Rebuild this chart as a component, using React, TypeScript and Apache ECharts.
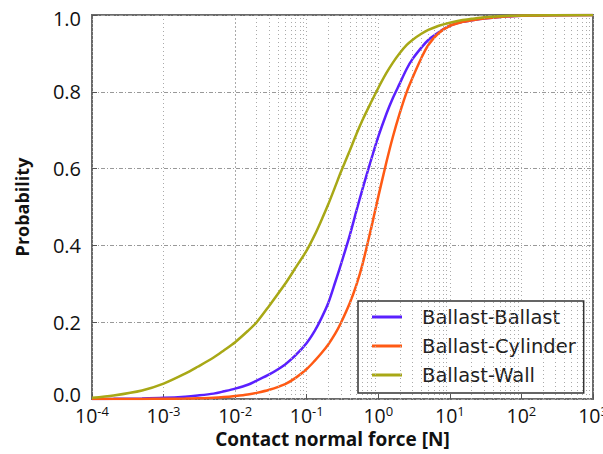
import React, { useEffect, useRef } from "react";
import * as echarts from "echarts";

const forces = [1e-4, 2e-4, 5e-4, 1e-3, 2e-3, 3e-3, 5e-3, 7e-3, 0.01, 0.015, 0.02, 0.03, 0.05, 0.07, 0.1, 0.13, 0.16, 0.2, 0.25, 0.3, 0.4, 0.5, 0.6, 0.8, 1, 1.3, 1.6, 2, 2.5, 3, 4, 5, 7, 10, 15, 20, 30, 50, 100, 1000];
const ballastBallast = [0, 0.0005, 0.0015, 0.003, 0.006, 0.009, 0.014, 0.02, 0.027, 0.037, 0.048, 0.064, 0.09, 0.114, 0.146, 0.178, 0.21, 0.25, 0.304, 0.35, 0.427, 0.493, 0.546, 0.625, 0.683, 0.743, 0.784, 0.822, 0.86, 0.885, 0.915, 0.935, 0.955, 0.972, 0.982, 0.986, 0.991, 0.995, 0.998, 1.0];
const ballastCylinder = [0, 0, 0.0002, 0.0005, 0.001, 0.0018, 0.003, 0.005, 0.008, 0.012, 0.016, 0.024, 0.039, 0.055, 0.078, 0.1, 0.119, 0.142, 0.17, 0.198, 0.25, 0.3, 0.35, 0.447, 0.527, 0.617, 0.683, 0.745, 0.8, 0.836, 0.888, 0.922, 0.953, 0.972, 0.982, 0.986, 0.991, 0.995, 0.998, 1.0];
const ballastWall = [0.003, 0.009, 0.022, 0.04, 0.066, 0.084, 0.108, 0.127, 0.148, 0.177, 0.2, 0.243, 0.3, 0.342, 0.387, 0.428, 0.465, 0.507, 0.553, 0.591, 0.647, 0.692, 0.726, 0.774, 0.81, 0.849, 0.876, 0.901, 0.922, 0.935, 0.951, 0.961, 0.972, 0.98, 0.987, 0.99, 0.994, 0.997, 0.999, 1.0];
const seriesNames = ["Ballast-Ballast", "Ballast-Cylinder", "Ballast-Wall"];
const seriesColors = ["#5a20ff", "#ff5a14", "#a8a816"];
const decades = [1e-4, 1e-3, 1e-2, 1e-1, 1, 10, 100];
const minorMultipliers = [2, 3, 4, 5, 6, 7, 8, 9];

const FONT = "Open Sans";

export default function App() {
  const ref = useRef<HTMLDivElement>(null);
  useEffect(() => {
    document.body.style.margin = "0";
    const chart = echarts.init(ref.current!, null, { renderer: "svg" });
    const minorLines: any[] = [];
    decades.forEach((d) => minorMultipliers.forEach((m) => minorLines.push({ xAxis: d * m })));
    const allData = [ballastBallast, ballastCylinder, ballastWall];
    const yLabelStyle = { fontFamily: FONT, fontSize: 20, color: "#111" };
    chart.setOption({
      animation: false,
      backgroundColor: "#ffffff",
      grid: {
        left: 92,
        top: 15,
        right: 10,
        bottom: 55,
        outerBoundsMode: "none",
        containLabel: false,
        show: true,
        borderColor: "#6a6a6a",
        borderWidth: 2,
        backgroundColor: "#fff",
      },
      legend: {
        data: seriesNames,
        orient: "vertical",
        left: 358,
        top: 301,
        backgroundColor: "#fff",
        borderColor: "#333",
        borderWidth: 1.5,
        borderRadius: 0,
        padding: [6, 8, 8, 14],
        itemWidth: 30,
        itemHeight: 3,
        itemGap: 9,
        icon: "rect",
        textStyle: { fontFamily: "DejaVu Sans", fontSize: 19.5, color: "#222", padding: [0, 0, 0, 15] },
      },
      xAxis: {
        type: "log",
        logBase: 10,
        min: 1e-4,
        max: 1e3,
        name: "Contact normal force [N]",
        nameLocation: "middle",
        nameGap: 30,
        nameTextStyle: { fontFamily: FONT, fontSize: 19, fontWeight: "bold", color: "#111", padding: [0, 20, 0, 0] },
        axisLine: { show: false },
        axisTick: { show: true, inside: true, length: 5, lineStyle: { color: "#555" } },
        splitLine: { show: true, lineStyle: { color: "#aaa", type: [1, 3], width: 1 } },
        axisLabel: {
          margin: 5,
          formatter: (v: number) => "{b|10}{s|" + Math.round(Math.log10(v)) + "}",
          rich: {
            b: { fontFamily: FONT, fontSize: 19.5, color: "#111" },
            s: { fontFamily: FONT, fontSize: 13, color: "#111", padding: [0, 0, 9, 0] },
          },
        },
      },
      yAxis: {
        type: "value",
        min: 0,
        max: 1,
        interval: 0.2,
        name: "Probability",
        nameLocation: "middle",
        nameGap: 61,
        nameTextStyle: { fontFamily: FONT, fontSize: 18, fontWeight: "bold", color: "#111" },
        axisLine: { show: false },
        axisTick: { show: true, inside: true, length: 5, lineStyle: { color: "#555" } },
        splitLine: { show: true, lineStyle: { color: "#999", type: [4, 2, 1, 2], width: 1 } },
        axisLabel: {
          margin: 11,
          ...yLabelStyle,
          formatter: (v: number) => {
            const t = v.toFixed(1);
            if (v < 0.01) return "{lo|" + t + "}";
            if (v > 0.99) return "{hi|" + t + "}";
            return "{n|" + t + "}";
          },
          rich: {
            n: { ...yLabelStyle },
            lo: { ...yLabelStyle, padding: [0, 0, 9, 0] },
            hi: { ...yLabelStyle, padding: [6, 0, 0, 0] },
          },
        },
      },
      series: [
        {
          type: "line",
          name: "grid-minor",
          data: [],
          z: 1,
          silent: true,
          markLine: {
            silent: true,
            symbol: ["none", "none"],
            label: { show: false },
            animation: false,
            lineStyle: { color: "#aaa", type: [1, 3], width: 1 },
            data: minorLines,
          },
        },
        ...seriesNames.map((name, i) => ({
          type: "line",
          name,
          z: 3 + i,
          data: forces.map((f, j) => [f, allData[i][j]]),
          showSymbol: false,
          smooth: 0.3,
          lineStyle: { color: seriesColors[i], width: 2.5 },
          itemStyle: { color: seriesColors[i] },
        })),
      ],
    });
    return () => chart.dispose();
  }, []);
  return <div ref={ref} style={{ width: 603, height: 454 }} />;
}
